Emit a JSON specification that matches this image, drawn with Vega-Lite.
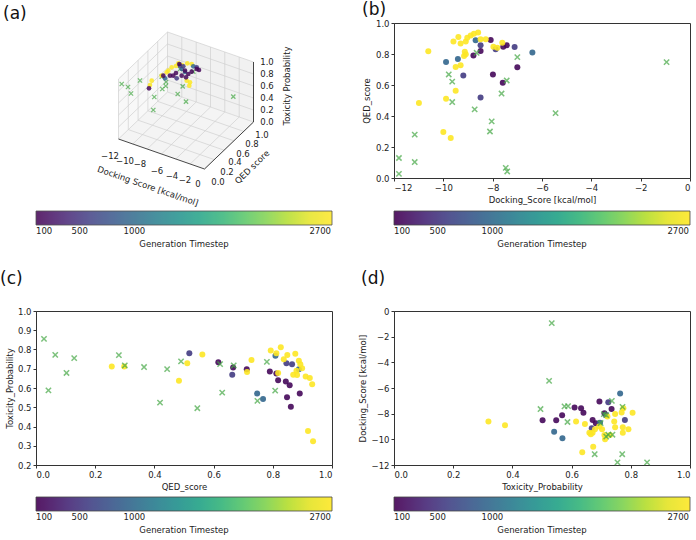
{
  "$schema": "https://vega.github.io/schema/vega-lite/v6.json",
  "padding": {"left": -1, "top": 0, "right": 0, "bottom": 0},
  "background": "white",
  "datasets": {
    "ref": [
      {"dock": -0.95, "qed": 0.748, "tox": 0.533},
      {"dock": -5.45, "qed": 0.419, "tox": 0.524},
      {"dock": -7.0, "qed": 0.78, "tox": 0.736},
      {"dock": -7.43, "qed": 0.629, "tox": 0.576},
      {"dock": -7.64, "qed": 0.545, "tox": 0.495},
      {"dock": -8.65, "qed": 0.808, "tox": 0.586},
      {"dock": -8.73, "qed": 0.443, "tox": 0.698},
      {"dock": -8.04, "qed": 0.365, "tox": 0.709},
      {"dock": -8.11, "qed": 0.30, "tox": 0.717},
      {"dock": -7.47, "qed": 0.065, "tox": 0.772},
      {"dock": -7.41, "qed": 0.042, "tox": 0.588},
      {"dock": -9.78, "qed": 0.668, "tox": 0.717},
      {"dock": -9.64, "qed": 0.622, "tox": 0.724},
      {"dock": -9.64, "qed": 0.49, "tox": 0.738},
      {"dock": -11.16, "qed": 0.28, "tox": 0.771},
      {"dock": -11.16, "qed": 0.103, "tox": 0.678},
      {"dock": -11.8, "qed": 0.129, "tox": 0.755},
      {"dock": -11.8, "qed": 0.027, "tox": 0.855}
    ],
    "genb": [
      {"dock": -10.61, "qed": 0.817, "gen": 2700},
      {"dock": -10.99, "qed": 0.484, "gen": 2700},
      {"dock": -9.5, "qed": 0.716, "gen": 2700},
      {"dock": -9.30, "qed": 0.727, "gen": 2700},
      {"dock": -9.5, "qed": 0.563, "gen": 2700},
      {"dock": -9.89, "qed": 0.512, "gen": 2700},
      {"dock": -10.0, "qed": 0.297, "gen": 2700},
      {"dock": -9.70, "qed": 0.258, "gen": 2700},
      {"dock": -7.99, "qed": 0.667, "gen": 150},
      {"dock": -7.59, "qed": 0.615, "gen": 150},
      {"dock": -7.0, "qed": 0.714, "gen": 150},
      {"dock": -8.08, "qed": 0.89, "gen": 150},
      {"dock": -8.49, "qed": 0.819, "gen": 150},
      {"dock": -8.78, "qed": 0.791, "gen": 150},
      {"dock": -9.19, "qed": 0.662, "gen": 550},
      {"dock": -8.49, "qed": 0.52, "gen": 550},
      {"dock": -7.11, "qed": 0.845, "gen": 550},
      {"dock": -8.49, "qed": 0.856, "gen": 550},
      {"dock": -9.89, "qed": 0.748, "gen": 950},
      {"dock": -9.41, "qed": 0.768, "gen": 950},
      {"dock": -8.69, "qed": 0.888, "gen": 950},
      {"dock": -6.39, "qed": 0.809, "gen": 950},
      {"dock": -9.59, "qed": 0.88, "gen": 2700},
      {"dock": -9.39, "qed": 0.91, "gen": 2700},
      {"dock": -9.30, "qed": 0.867, "gen": 2700},
      {"dock": -9.09, "qed": 0.88, "gen": 2700},
      {"dock": -9.03, "qed": 0.905, "gen": 2700},
      {"dock": -8.89, "qed": 0.92, "gen": 2700},
      {"dock": -8.76, "qed": 0.931, "gen": 2700},
      {"dock": -8.59, "qed": 0.938, "gen": 2700},
      {"dock": -8.49, "qed": 0.895, "gen": 2700},
      {"dock": -8.28, "qed": 0.895, "gen": 2700},
      {"dock": -9.09, "qed": 0.798, "gen": 2700},
      {"dock": -9.16, "qed": 0.787, "gen": 2700},
      {"dock": -9.13, "qed": 0.815, "gen": 2700},
      {"dock": -7.88, "qed": 0.83, "gen": 550},
      {"dock": -7.97, "qed": 0.847, "gen": 2700},
      {"dock": -7.81, "qed": 0.841, "gen": 2700},
      {"dock": -7.57, "qed": 0.847, "gen": 150},
      {"dock": -7.43, "qed": 0.856, "gen": 150},
      {"dock": -7.61, "qed": 0.873, "gen": 2700}
    ],
    "genc": [
      {"qed": 0.616, "tox": 0.734, "gen": 150},
      {"qed": 0.666, "tox": 0.707, "gen": 150},
      {"qed": 0.712, "tox": 0.698, "gen": 150},
      {"qed": 0.79, "tox": 0.686, "gen": 150},
      {"qed": 0.818, "tox": 0.64, "gen": 150},
      {"qed": 0.844, "tox": 0.634, "gen": 150},
      {"qed": 0.857, "tox": 0.614, "gen": 150},
      {"qed": 0.848, "tox": 0.552, "gen": 150},
      {"qed": 0.861, "tox": 0.502, "gen": 150},
      {"qed": 0.891, "tox": 0.571, "gen": 150},
      {"qed": 0.812, "tox": 0.675, "gen": 150},
      {"qed": 0.518, "tox": 0.781, "gen": 550},
      {"qed": 0.663, "tox": 0.669, "gen": 550},
      {"qed": 0.846, "tox": 0.729, "gen": 550},
      {"qed": 0.865, "tox": 0.724, "gen": 550},
      {"qed": 0.747, "tox": 0.571, "gen": 950},
      {"qed": 0.767, "tox": 0.543, "gen": 950},
      {"qed": 0.809, "tox": 0.767, "gen": 950},
      {"qed": 0.888, "tox": 0.698, "gen": 950},
      {"qed": 0.256, "tox": 0.712, "gen": 2700},
      {"qed": 0.298, "tox": 0.712, "gen": 2700},
      {"qed": 0.483, "tox": 0.638, "gen": 2700},
      {"qed": 0.511, "tox": 0.728, "gen": 2700},
      {"qed": 0.562, "tox": 0.774, "gen": 2700},
      {"qed": 0.713, "tox": 0.683, "gen": 2700},
      {"qed": 0.728, "tox": 0.745, "gen": 2700},
      {"qed": 0.827, "tox": 0.812, "gen": 2700},
      {"qed": 0.793, "tox": 0.795, "gen": 2700},
      {"qed": 0.812, "tox": 0.78, "gen": 2700},
      {"qed": 0.849, "tox": 0.772, "gen": 2700},
      {"qed": 0.876, "tox": 0.778, "gen": 2700},
      {"qed": 0.837, "tox": 0.75, "gen": 2700},
      {"qed": 0.888, "tox": 0.741, "gen": 2700},
      {"qed": 0.893, "tox": 0.724, "gen": 2700},
      {"qed": 0.899, "tox": 0.703, "gen": 2700},
      {"qed": 0.88, "tox": 0.69, "gen": 2700},
      {"qed": 0.869, "tox": 0.669, "gen": 2700},
      {"qed": 0.882, "tox": 0.667, "gen": 2700},
      {"qed": 0.911, "tox": 0.66, "gen": 2700},
      {"qed": 0.925, "tox": 0.652, "gen": 2700},
      {"qed": 0.933, "tox": 0.62, "gen": 2700},
      {"qed": 0.818, "tox": 0.678, "gen": 2700},
      {"qed": 0.919, "tox": 0.376, "gen": 2700},
      {"qed": 0.936, "tox": 0.324, "gen": 2700}
    ],
    "gend": [
      {"tox": 0.502, "dock": -8.52, "gen": 150},
      {"tox": 0.548, "dock": -8.52, "gen": 150},
      {"tox": 0.568, "dock": -8.13, "gen": 150},
      {"tox": 0.61, "dock": -7.51, "gen": 150},
      {"tox": 0.632, "dock": -7.58, "gen": 150},
      {"tox": 0.64, "dock": -7.92, "gen": 150},
      {"tox": 0.671, "dock": -8.49, "gen": 150},
      {"tox": 0.682, "dock": -8.75, "gen": 150},
      {"tox": 0.694, "dock": -7.06, "gen": 150},
      {"tox": 0.711, "dock": -7.97, "gen": 150},
      {"tox": 0.735, "dock": -7.64, "gen": 150},
      {"tox": 0.724, "dock": -7.12, "gen": 550},
      {"tox": 0.78, "dock": -8.49, "gen": 550},
      {"tox": 0.668, "dock": -9.14, "gen": 550},
      {"tox": 0.716, "dock": -8.1, "gen": 550},
      {"tox": 0.541, "dock": -9.40, "gen": 950},
      {"tox": 0.569, "dock": -9.92, "gen": 950},
      {"tox": 0.764, "dock": -6.42, "gen": 950},
      {"tox": 0.696, "dock": -8.70, "gen": 950},
      {"tox": 0.319, "dock": -8.62, "gen": 2700},
      {"tox": 0.375, "dock": -8.91, "gen": 2700},
      {"tox": 0.636, "dock": -11.01, "gen": 2700},
      {"tox": 0.673, "dock": -10.57, "gen": 2700},
      {"tox": 0.615, "dock": -8.62, "gen": 2700},
      {"tox": 0.645, "dock": -8.81, "gen": 2700},
      {"tox": 0.66, "dock": -9.48, "gen": 2700},
      {"tox": 0.671, "dock": -9.48, "gen": 2700},
      {"tox": 0.679, "dock": -9.22, "gen": 2700},
      {"tox": 0.665, "dock": -9.6, "gen": 2700},
      {"tox": 0.703, "dock": -9.22, "gen": 2700},
      {"tox": 0.721, "dock": -8.23, "gen": 2700},
      {"tox": 0.747, "dock": -8.03, "gen": 2700},
      {"tox": 0.744, "dock": -8.62, "gen": 2700},
      {"tox": 0.769, "dock": -7.9, "gen": 2700},
      {"tox": 0.775, "dock": -7.58, "gen": 2700},
      {"tox": 0.806, "dock": -7.92, "gen": 2700},
      {"tox": 0.773, "dock": -9.06, "gen": 2700},
      {"tox": 0.773, "dock": -9.48, "gen": 2700},
      {"tox": 0.792, "dock": -9.22, "gen": 2700},
      {"tox": 0.747, "dock": -9.06, "gen": 2700},
      {"tox": 0.711, "dock": -9.66, "gen": 2700},
      {"tox": 0.713, "dock": -10.0, "gen": 2700},
      {"tox": 0.73, "dock": -9.66, "gen": 2700},
      {"tox": 0.693, "dock": -9.0, "gen": 2700}
    ],
    "a_panes": [
      {"pane": "left", "px": 118.5, "py": 140, "py2": 80},
      {"pane": "left", "px": 167.5, "py": 93, "py2": 33},
      {"pane": "back", "px": 167.5, "py": 93, "py2": 33},
      {"pane": "back", "px": 253.5, "py": 123, "py2": 63},
      {"pane": "floor", "px": 118.5, "py": 140, "py2": 140},
      {"pane": "floor", "px": 167.5, "py": 157.1, "py2": 93},
      {"pane": "floor", "px": 204.5, "py": 170, "py2": 105.9},
      {"pane": "floor", "px": 253.5, "py": 123, "py2": 123}
    ],
    "a_grid": [
      {"px": 118.5, "py": 140, "px2": 167.5, "py2": 93},
      {"px": 132.8, "py": 145, "px2": 181.8, "py2": 98},
      {"px": 147.2, "py": 150, "px2": 196.2, "py2": 103},
      {"px": 161.5, "py": 155, "px2": 210.5, "py2": 108},
      {"px": 175.8, "py": 160, "px2": 224.8, "py2": 113},
      {"px": 190.2, "py": 165, "px2": 239.2, "py2": 118},
      {"px": 204.5, "py": 170, "px2": 253.5, "py2": 123},
      {"px": 128.3, "py": 130.6, "px2": 214.3, "py2": 160.6},
      {"px": 138.1, "py": 121.2, "px2": 224.1, "py2": 151.2},
      {"px": 147.9, "py": 111.8, "px2": 233.9, "py2": 141.8},
      {"px": 157.7, "py": 102.4, "px2": 243.7, "py2": 132.4},
      {"px": 167.5, "py": 93, "px2": 253.5, "py2": 123},
      {"px": 118.5, "py": 140, "px2": 118.5, "py2": 80},
      {"px": 128.3, "py": 130.6, "px2": 128.3, "py2": 70.6},
      {"px": 138.1, "py": 121.2, "px2": 138.1, "py2": 61.2},
      {"px": 147.9, "py": 111.8, "px2": 147.9, "py2": 51.8},
      {"px": 157.7, "py": 102.4, "px2": 157.7, "py2": 42.4},
      {"px": 167.5, "py": 93, "px2": 167.5, "py2": 33},
      {"px": 118.5, "py": 128, "px2": 167.5, "py2": 81},
      {"px": 118.5, "py": 116, "px2": 167.5, "py2": 69},
      {"px": 118.5, "py": 104, "px2": 167.5, "py2": 57},
      {"px": 118.5, "py": 92, "px2": 167.5, "py2": 45},
      {"px": 118.5, "py": 80, "px2": 167.5, "py2": 33},
      {"px": 181.8, "py": 98, "px2": 181.8, "py2": 38},
      {"px": 196.2, "py": 103, "px2": 196.2, "py2": 43},
      {"px": 210.5, "py": 108, "px2": 210.5, "py2": 48},
      {"px": 224.8, "py": 113, "px2": 224.8, "py2": 53},
      {"px": 239.2, "py": 118, "px2": 239.2, "py2": 58},
      {"px": 253.5, "py": 123, "px2": 253.5, "py2": 63},
      {"px": 167.5, "py": 81, "px2": 253.5, "py2": 111},
      {"px": 167.5, "py": 69, "px2": 253.5, "py2": 99},
      {"px": 167.5, "py": 57, "px2": 253.5, "py2": 87},
      {"px": 167.5, "py": 45, "px2": 253.5, "py2": 75},
      {"px": 167.5, "py": 33, "px2": 253.5, "py2": 63}
    ],
    "a_axis": [
      {"px": 118.5, "py": 140, "px2": 204.5, "py2": 170},
      {"px": 204.5, "py": 170, "px2": 253.5, "py2": 123},
      {"px": 253.5, "py": 123, "px2": 253.5, "py2": 63}
    ],
    "a_ticks": [
      {"px": 110, "py": 157, "label": "−12"},
      {"px": 125, "py": 162, "label": "−10"},
      {"px": 140, "py": 165, "label": "−8"},
      {"px": 157, "py": 172, "label": "−6"},
      {"px": 172, "py": 177, "label": "−4"},
      {"px": 185, "py": 181, "label": "−2"},
      {"px": 198, "py": 185, "label": "0"},
      {"px": 218, "py": 183, "label": "0.0"},
      {"px": 227, "py": 173, "label": "0.2"},
      {"px": 235, "py": 163, "label": "0.4"},
      {"px": 243, "py": 155, "label": "0.6"},
      {"px": 252, "py": 145, "label": "0.8"},
      {"px": 262, "py": 136, "label": "1.0"},
      {"px": 267, "py": 123, "label": "0.0"},
      {"px": 267, "py": 111, "label": "0.2"},
      {"px": 267, "py": 99, "label": "0.4"},
      {"px": 267, "py": 87, "label": "0.6"},
      {"px": 267, "py": 75, "label": "0.8"},
      {"px": 267, "py": 63, "label": "1.0"}
    ],
    "a_ref": [
      {"px": 121.7, "py": 85}, {"px": 128, "py": 88}, {"px": 140, "py": 81.5},
      {"px": 131, "py": 94.5}, {"px": 154.3, "py": 98}, {"px": 153.3, "py": 111},
      {"px": 162.3, "py": 90}, {"px": 165.7, "py": 87}, {"px": 161.7, "py": 77.7},
      {"px": 182.7, "py": 87.3}, {"px": 177.7, "py": 95}, {"px": 186, "py": 102.7},
      {"px": 233.3, "py": 97.7}, {"px": 193.3, "py": 72.7}, {"px": 166, "py": 83},
      {"px": 180, "py": 70}
    ],
    "a_pts": [
      {"px": 151.7, "py": 81.7, "gen": 2700}, {"px": 150, "py": 86, "gen": 2700},
      {"px": 161.7, "py": 76.7, "gen": 2700}, {"px": 168.3, "py": 71.7, "gen": 2700},
      {"px": 171.7, "py": 68.3, "gen": 2700}, {"px": 178.3, "py": 64.3, "gen": 2700},
      {"px": 187.3, "py": 64.3, "gen": 2700}, {"px": 191.7, "py": 65, "gen": 2700},
      {"px": 189.3, "py": 86.7, "gen": 2700}, {"px": 186.7, "py": 81.7, "gen": 2700},
      {"px": 190, "py": 83.3, "gen": 2700}, {"px": 166.7, "py": 73.3, "gen": 2700},
      {"px": 176, "py": 67, "gen": 2700}, {"px": 182, "py": 66, "gen": 2700},
      {"px": 181.7, "py": 70, "gen": 950}, {"px": 193.3, "py": 67.3, "gen": 950},
      {"px": 165, "py": 79.3, "gen": 950}, {"px": 185, "py": 73, "gen": 950},
      {"px": 176.7, "py": 79.3, "gen": 550}, {"px": 180, "py": 66.7, "gen": 550},
      {"px": 183.3, "py": 67.3, "gen": 550}, {"px": 196.7, "py": 68.3, "gen": 550},
      {"px": 149, "py": 89.3, "gen": 150}, {"px": 170, "py": 76.7, "gen": 150},
      {"px": 173.3, "py": 76.7, "gen": 150}, {"px": 181.7, "py": 76.7, "gen": 150},
      {"px": 186, "py": 78.3, "gen": 150}, {"px": 188.3, "py": 75, "gen": 150},
      {"px": 185, "py": 71.7, "gen": 150}, {"px": 191.7, "py": 72.7, "gen": 150},
      {"px": 196.7, "py": 70, "gen": 150}, {"px": 199, "py": 71, "gen": 150},
      {"px": 179.3, "py": 65, "gen": 150}, {"px": 163.3, "py": 76.7, "gen": 150},
      {"px": 176, "py": 74, "gen": 150}
    ]
  },
  "concat": [
    {
      "width": 296, "height": 155,
      "title": {"text": "(a)", "dx": -33, "offset": 0},
      "view": {"stroke": null},
      "encoding": {
        "x": {"field": "px", "type": "quantitative", "scale": {"domain": [36, 332], "nice": false, "zero": false}, "axis": null},
        "y": {"field": "py", "type": "quantitative", "scale": {"domain": [24, 179], "nice": false, "zero": false, "reverse": true}, "axis": null}
      },
      "layer": [
        {"data": {"name": "a_panes"}, "transform": [{"filter": "datum.pane === 'left'"}], "mark": {"type": "area", "color": "#f8f8f8", "orient": "vertical"}, "encoding": {"y2": {"field": "py2"}}},
        {"data": {"name": "a_panes"}, "transform": [{"filter": "datum.pane === 'back'"}], "mark": {"type": "area", "color": "#f1f1f1", "orient": "vertical"}, "encoding": {"y2": {"field": "py2"}}},
        {"data": {"name": "a_panes"}, "transform": [{"filter": "datum.pane === 'floor'"}], "mark": {"type": "area", "color": "#f4f4f4", "orient": "vertical"}, "encoding": {"y2": {"field": "py2"}}},
        {"data": {"name": "a_grid"}, "mark": {"type": "rule", "color": "#d0d0d0", "strokeWidth": 0.7}, "encoding": {"x2": {"field": "px2"}, "y2": {"field": "py2"}}},
        {"data": {"name": "a_axis"}, "mark": {"type": "rule", "color": "#333333", "strokeWidth": 0.9}, "encoding": {"x2": {"field": "px2"}, "y2": {"field": "py2"}}},
        {"data": {"name": "a_ref"}, "mark": {"type": "point", "shape": "M-1,-1L1,1M-1,1L1,-1", "filled": false, "size": 18, "strokeWidth": 1.3, "color": "#45a845"}},
        {"data": {"name": "a_pts"}, "mark": {"type": "circle", "size": 22, "opacity": 0.85},
          "encoding": {"color": {"field": "gen", "type": "quantitative",
            "scale": {"type": "linear", "domain": [100, 360, 620, 880, 1140, 1400, 1660, 1920, 2180, 2440, 2700, 2808], "range": ["#440154", "#482475", "#414487", "#355f8d", "#2a788e", "#21918c", "#22a884", "#44bf70", "#7ad151", "#bddf26", "#fde725", "#fde725"], "interpolate": "rgb"},
            "legend": {"orient": "none", "legendX": 0, "legendY": 188, "title": "Generation Timestep", "values": [100, 500, 1000, 2700], "format": "d"}}}},
        {"data": {"name": "a_ticks"}, "mark": {"type": "text", "fontSize": 8.5, "color": "#222222", "align": "center", "baseline": "middle"}, "encoding": {"text": {"field": "label"}}},
        {"data": {"values": [{"px": 148, "py": 187, "label": "Docking Score [kcal/mol]"}]}, "mark": {"type": "text", "fontSize": 8.5, "color": "#222222", "angle": 19, "align": "center", "baseline": "middle"}, "encoding": {"text": {"field": "label"}}},
        {"data": {"values": [{"px": 252, "py": 168, "label": "QED score"}]}, "mark": {"type": "text", "fontSize": 8.5, "color": "#222222", "angle": -44, "align": "center", "baseline": "middle"}, "encoding": {"text": {"field": "label"}}},
        {"data": {"values": [{"px": 287, "py": 87, "label": "Toxicity Probability"}]}, "mark": {"type": "text", "fontSize": 8.5, "color": "#222222", "angle": -90, "align": "center", "baseline": "middle"}, "encoding": {"text": {"field": "label"}}}
      ]
    },
    {
      "width": 296, "height": 155,
      "title": {"text": "(b)", "dx": -32, "offset": 0},
      "encoding": {
        "x": {"field": "dock", "type": "quantitative", "scale": {"domain": [-12, 0], "nice": false, "zero": false}, "axis": {"values": [-12, -10, -8, -6, -4, -2, 0], "format": "d", "title": "Docking_Score [kcal/mol]"}},
        "y": {"field": "qed", "type": "quantitative", "scale": {"domain": [0, 1], "nice": false}, "axis": {"values": [0, 0.2, 0.4, 0.6, 0.8, 1.0], "format": ".1f", "title": "QED_score"}}
      },
      "layer": [
        {"data": {"name": "genb"}, "mark": {"type": "circle", "size": 36, "opacity": 0.9},
          "encoding": {"color": {"field": "gen", "type": "quantitative",
            "scale": {"type": "linear", "domain": [100, 360, 620, 880, 1140, 1400, 1660, 1920, 2180, 2440, 2700, 2808], "range": ["#440154", "#482475", "#414487", "#355f8d", "#2a788e", "#21918c", "#22a884", "#44bf70", "#7ad151", "#bddf26", "#fde725", "#fde725"], "interpolate": "rgb"},
            "legend": {"orient": "none", "legendX": 0, "legendY": 188, "title": "Generation Timestep", "values": [100, 500, 1000, 2700], "format": "d"}}}},
        {"data": {"name": "ref"}, "mark": {"type": "point", "shape": "M-1,-1L1,1M-1,1L1,-1", "filled": false, "size": 28, "strokeWidth": 1.5, "color": "#45a845"}}
      ]
    },
    {
      "width": 296, "height": 154,
      "title": {"text": "(c)", "dx": -36, "offset": 19},
      "encoding": {
        "x": {"field": "qed", "type": "quantitative", "scale": {"domain": [0, 1], "nice": false}, "axis": {"values": [0, 0.2, 0.4, 0.6, 0.8, 1.0], "format": ".1f", "title": "QED_score"}},
        "y": {"field": "tox", "type": "quantitative", "scale": {"domain": [0.2, 1], "nice": false, "zero": false}, "axis": {"values": [0.2, 0.3, 0.4, 0.5, 0.6, 0.7, 0.8, 0.9, 1.0], "format": ".1f", "title": "Toxicity_Probability", "titlePadding": 3}}
      },
      "layer": [
        {"data": {"name": "genc"}, "mark": {"type": "circle", "size": 36, "opacity": 0.9},
          "encoding": {"color": {"field": "gen", "type": "quantitative",
            "scale": {"type": "linear", "domain": [100, 360, 620, 880, 1140, 1400, 1660, 1920, 2180, 2440, 2700, 2808], "range": ["#440154", "#482475", "#414487", "#355f8d", "#2a788e", "#21918c", "#22a884", "#44bf70", "#7ad151", "#bddf26", "#fde725", "#fde725"], "interpolate": "rgb"},
            "legend": {"orient": "none", "legendX": 0, "legendY": 186, "title": "Generation Timestep", "values": [100, 500, 1000, 2700], "format": "d"}}}},
        {"data": {"name": "ref"}, "mark": {"type": "point", "shape": "M-1,-1L1,1M-1,1L1,-1", "filled": false, "size": 28, "strokeWidth": 1.5, "color": "#45a845"}}
      ]
    },
    {
      "width": 296, "height": 154,
      "title": {"text": "(d)", "dx": -33, "offset": 19},
      "encoding": {
        "x": {"field": "tox", "type": "quantitative", "scale": {"domain": [0, 1], "nice": false}, "axis": {"values": [0, 0.2, 0.4, 0.6, 0.8, 1.0], "format": ".1f", "title": "Toxicity_Probability"}},
        "y": {"field": "dock", "type": "quantitative", "scale": {"domain": [-12, 0], "nice": false, "zero": false}, "axis": {"values": [-12, -10, -8, -6, -4, -2, 0], "format": "d", "title": "Docking_Score [kcal/mol]"}}
      },
      "layer": [
        {"data": {"name": "gend"}, "mark": {"type": "circle", "size": 36, "opacity": 0.9},
          "encoding": {"color": {"field": "gen", "type": "quantitative",
            "scale": {"type": "linear", "domain": [100, 360, 620, 880, 1140, 1400, 1660, 1920, 2180, 2440, 2700, 2808], "range": ["#440154", "#482475", "#414487", "#355f8d", "#2a788e", "#21918c", "#22a884", "#44bf70", "#7ad151", "#bddf26", "#fde725", "#fde725"], "interpolate": "rgb"},
            "legend": {"orient": "none", "legendX": 0, "legendY": 186, "title": "Generation Timestep", "values": [100, 500, 1000, 2700], "format": "d"}}}},
        {"data": {"name": "ref"}, "mark": {"type": "point", "shape": "M-1,-1L1,1M-1,1L1,-1", "filled": false, "size": 28, "strokeWidth": 1.5, "color": "#45a845"}}
      ]
    }
  ],
  "columns": 2,
  "spacing": {"row": 133, "column": 62},
  "bounds": "flush",
  "resolve": {"scale": {"color": "independent"}, "legend": {"color": "independent"}},
  "config": {
    "font": "DejaVu Sans",
    "view": {"stroke": "#333333", "strokeWidth": 1},
    "axis": {"grid": false, "domainColor": "#333333", "tickColor": "#333333", "labelColor": "#222222", "titleColor": "#222222", "labelFont": "DejaVu Sans", "titleFont": "DejaVu Sans", "labelFontSize": 8.5, "titleFontSize": 8.5, "titleFontWeight": "normal", "tickSize": 3, "labelPadding": 2, "titlePadding": 4},
    "legend": {"direction": "horizontal", "gradientLength": 296, "gradientThickness": 14, "titleOrient": "bottom", "titleAnchor": "middle", "labelAlign": "center", "labelOverlap": false, "labelFont": "DejaVu Sans", "titleFont": "DejaVu Sans", "labelFontSize": 8.5, "titleFontSize": 8.5, "titleFontWeight": "normal", "labelColor": "#222222", "titleColor": "#222222", "gradientStrokeColor": "#333333", "gradientStrokeWidth": 0.8, "labelOffset": 4, "titlePadding": 4, "padding": 0},
    "title": {"fontSize": 17, "fontWeight": "normal", "anchor": "start", "frame": "group", "font": "DejaVu Sans", "color": "#111111", "baseline": "bottom"}
  }
}
